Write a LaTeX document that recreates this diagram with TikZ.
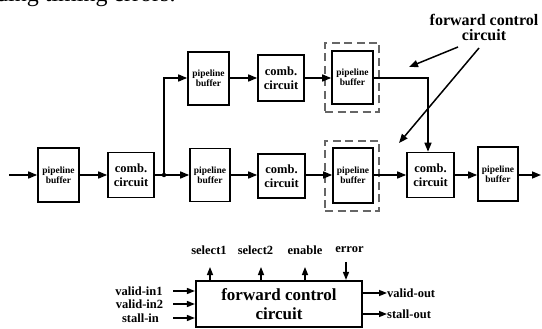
\documentclass[tikz,border=0pt]{standalone}
\usepackage{fontspec}
\setmainfont{Liberation Serif}
\usetikzlibrary{arrows.meta,calc}
\begin{document}
\begin{tikzpicture}[x=1pt,y=-1pt,
 blk/.style={draw,line width=1.6pt,inner sep=0pt,align=center},
 pbuf/.style={blk,minimum width=41pt,minimum height=54pt,font=\bfseries\fontsize{9.5}{10}\selectfont},
 comb/.style={blk,minimum width=46pt,minimum height=45pt,font=\bfseries\fontsize{12.5}{14}\selectfont},
 dbox/.style={draw=black!60,dash pattern=on 8pt off 4.5pt,line width=1.4pt,inner sep=0pt,minimum width=54pt},
 arr/.style={line width=1.5pt,-{Triangle[length=9pt,width=7pt]}},
 sarr/.style={line width=1.4pt,-{Triangle[length=8pt,width=6pt]}},
 ln/.style={line width=1.5pt},
 lab/.style={font=\bfseries\fontsize{12.5}{14}\selectfont,inner sep=0pt}
]
\useasboundingbox (0,0) rectangle (542,329);
% cut-off line of text at the top
\begin{scope}
\clip (0,0) rectangle (542,329);
\node[anchor=base west,inner sep=0pt,font=\fontsize{24}{26}\selectfont] (top) at (-4,2) {ding timing errors.};
\end{scope}

% dashed boxes
\node[dbox,minimum height=69pt] (d1) at (352,77.5) {};
\node[dbox,minimum height=70pt] (d2) at (352,176) {};

% lower row
\node[pbuf] (pb1) at (58.5,175) {pipeline\\buffer};
\node[comb] (cc1) at (131,175) {comb.\\circuit};
\node[circle,fill,inner sep=0pt,minimum size=4.5pt] (j) at (164,175) {};
\node[pbuf,minimum width=40pt,minimum height=53pt] (pb2) at (210,175) {pipeline\\buffer};
\node[comb,minimum width=47pt,minimum height=44pt] (cc2) at (281.5,176) {comb.\\circuit};
\node[pbuf,minimum width=40pt,minimum height=55pt] (pb3) at (353,175.5) {pipeline\\buffer};
\node[comb,minimum width=47pt] (cc3) at (430.5,175) {comb.\\circuit};
\node[pbuf,minimum width=40pt] (pb4) at (498,174) {pipeline\\buffer};

% upper row
\node[pbuf,minimum height=53pt] (pu1) at (208.5,78.5) {pipeline\\buffer};
\node[comb,minimum height=46pt] (cu) at (281,78) {comb.\\circuit};
\node[pbuf,minimum height=53pt] (pu2) at (352.5,77.5) {pipeline\\buffer};

\coordinate (in) at (9,175);
\coordinate (out) at (541,175);
\coordinate (up) at (164,78);
\coordinate (rt) at (428,78);

\draw[arr] (in) -- (pb1.west |- in);
\draw[arr] (pb1.east |- in) -- (cc1.west |- in);
\draw[ln] (cc1.east |- in) -- (j);
\draw[arr] (j) -- (pb2.west |- in);
\draw[arr] (j) -- (up) -- (pu1.west |- up);
\draw[arr] (pu1.east |- up) -- (cu.west |- up);
\draw[arr] (cu.east |- up) -- (pu2.west |- up);
\draw[arr] (pu2.east |- up) -- (rt) -- (rt |- cc3.north);
\draw[arr] (pb2.east |- in) -- (cc2.west |- in);
\draw[arr] (cc2.east |- in) -- (pb3.west |- in);
\draw[arr] (pb3.east |- in) -- (cc3.west |- in);
\draw[arr] (cc3.east |- in) -- (pb4.west |- in);
\draw[arr] (pb4.east |- in) -- (out);

% label with pointers
\node[align=center,inner sep=0pt,font=\bfseries\fontsize{16}{15}\selectfont] (fcl) at (484,27) {forward control\\circuit};
\coordinate (f1) at (458,47);
\coordinate (f2) at (479,48);
\coordinate (t1) at (409,67);
\coordinate (t2) at (399,143);
\draw[arr] (f1) -- (t1);
\draw[arr] (f2) -- (t2);

% forward control circuit block
\node[draw,line width=2.2pt,minimum width=166pt,minimum height=46pt,inner sep=0pt,align=center,font=\bfseries\fontsize{17}{19}\selectfont] (fcc) at (279,304) {forward control\\circuit};

\node[lab] (s1) at (209,250) {select1};
\node[lab] (s2) at (255.5,250) {select2};
\node[lab] (en) at (305,250) {enable};
\node[lab] (er) at (349.5,250) {error};
\coordinate (a1) at (210,267);
\coordinate (a2) at (261,267);
\coordinate (a3) at (305,267);
\coordinate (a4) at (346,262);
\draw[sarr] (a1 |- fcc.north) -- (a1);
\draw[sarr] (a2 |- fcc.north) -- (a2);
\draw[sarr] (a3 |- fcc.north) -- (a3);
\draw[sarr] (a4) -- (a4 |- fcc.north);

\node[lab] (vi1) at (139,291) {valid-in1};
\node[lab] (vi2) at (139.5,304) {valid-in2};
\node[lab] (si) at (140.5,318) {stall-in};
\coordinate (b1) at (173,291);
\coordinate (b2) at (173,304);
\coordinate (b3) at (173,318);
\draw[sarr] (b1) -- (b1 -| fcc.west);
\draw[sarr] (b2) -- (b2 -| fcc.west);
\draw[sarr] (b3) -- (b3 -| fcc.west);

\node[lab,anchor=west] (vo) at (387,293) {valid-out};
\node[lab,anchor=west] (so) at (387,314) {stall-out};
\draw[sarr] (vo.west -| fcc.east) -- (vo.west);
\draw[sarr] (so.west -| fcc.east) -- (so.west);
\end{tikzpicture}
\end{document}
